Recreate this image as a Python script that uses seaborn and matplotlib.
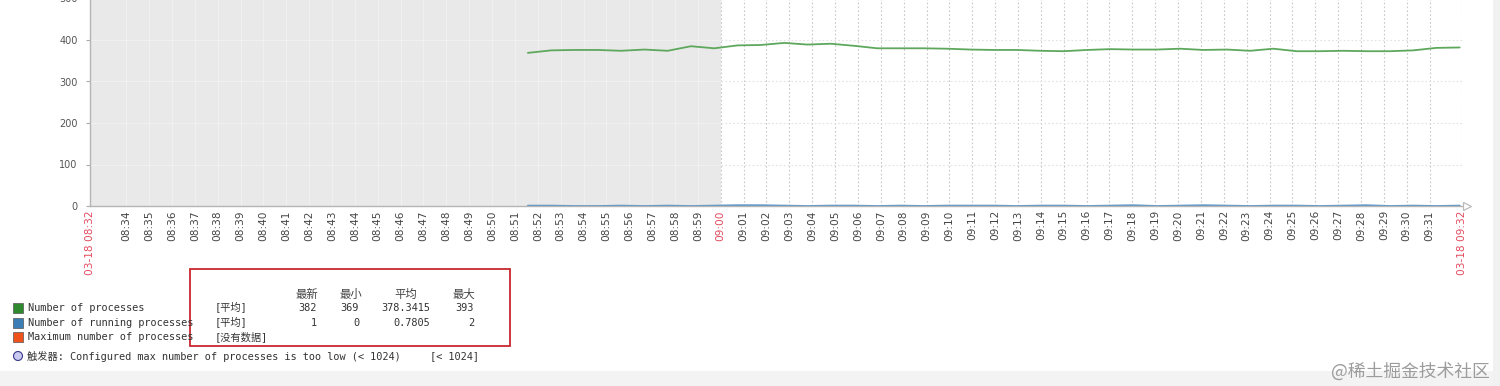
import numpy as np
import pandas as pd
import matplotlib
matplotlib.use("Agg")
import matplotlib.pyplot as plt
import matplotlib.dates as mdates
from matplotlib.patches import Rectangle, Ellipse
import seaborn as sns

# ---------------- data ----------------
period_start = pd.Timestamp("2024-03-18 08:32:25")
period_end = pd.Timestamp("2024-03-18 09:32:25")
day_mark = pd.Timestamp("2024-03-18 09:00:00")
sample_first = "2024-03-18 08:51:34"
sample_last = "2024-03-18 09:32:19"
n_samples = 41

processes = [369, 375, 376, 376, 374, 377, 374, 385, 380, 387, 388, 393, 389, 391, 386,
             380, 380, 380, 379, 377, 376, 376, 374, 373, 376, 378, 377, 377, 379, 376, 377,
             374, 379, 373, 373, 374, 373, 373, 375, 381, 382]
running = [1, 1, 0, 0, 1, 0, 1, 0, 1, 2, 2, 1, 0, 1, 1, 0, 1, 0, 1, 1, 1, 0, 1, 1, 0, 1,
           2, 0, 1, 2, 1, 0, 1, 1, 0, 1, 2, 0, 1, 0, 1]

series_names = ["Number of processes", "Number of running processes", "Maximum number of processes"]
series_colors = ["#2f8a2f", "#3b7db5", "#f0521c"]
line_colors = {"Number of processes": "#5ea85e", "Number of running processes": "#6b9cc6"}
func_labels = ["[平均]", "[平均]", "[没有数据]"]
stat_headers = ["最新", "最小", "平均", "最大"]
trigger_text = "触发器: Configured max number of processes is too low (< 1024)"
trigger_value = "[< 1024]"
yticks = [0, 100, 200, 300, 400, 500]
watermark = "@稀土掘金技术社区"

# ---------------- figure ----------------
sns.set_theme(style="white")
plt.rcParams["font.family"] = ["DejaVu Sans", "Noto Sans CJK SC"]
MONO = ["DejaVu Sans Mono", "Noto Sans CJK SC"]

W, H = 1500, 386
fig = plt.figure(figsize=(W / 100, H / 100), dpi=100)
fig.patch.set_facecolor("white")


def fx(x):
    return x / W


def fy(y):
    return 1 - y / H


ax = fig.add_axes([fx(90), fy(206), fx(1462) - fx(90), fy(-1.5) - fy(206)])
ax.set_facecolor("white")

times = pd.date_range(sample_first, sample_last, periods=n_samples)
df = pd.DataFrame({
    "time": np.concatenate([times, times]),
    "value": np.concatenate([processes, running]),
    "series": [series_names[0]] * n_samples + [series_names[1]] * n_samples,
})

ax.axvspan(period_start, day_mark, color="#e9e9e9", zorder=0, lw=0)

# grid
minute_ticks = pd.date_range("2024-03-18 08:34", "2024-03-18 09:31", freq="min")
for t in minute_ticks:
    if t < day_mark:
        ax.axvline(t, color="#f0f0f0", lw=0.8, zorder=0.5)
    else:
        ax.axvline(t, color="#c8c8c8", lw=0.8, ls=(0, (1.5, 2)), zorder=0.5)
ax.axvline(period_end, color="#c8c8c8", lw=0.8, ls=(0, (1.5, 2)), zorder=0.5)
for yv in yticks[1:]:
    ax.hlines(yv, period_start, day_mark, color="#f0f0f0", lw=0.8, zorder=0.5)
    ax.hlines(yv, day_mark, period_end, color="#e2e2e2", lw=0.8, ls=(0, (1.5, 2)), zorder=0.5)

sns.lineplot(data=df, x="time", y="value", hue="series", palette=line_colors,
             legend=False, ax=ax, linewidth=1.3, zorder=3)

ax.set_xlim(period_start, period_end)
ax.set_ylim(0, 500)
ax.set_xlabel("")
ax.set_ylabel("")

# ticks
tick_list = [period_start] + list(minute_ticks) + [period_end]
tick_labels = [period_start.strftime("%m-%d %H:%M")] + [t.strftime("%H:%M") for t in minute_ticks] + \
              [period_end.strftime("%m-%d %H:%M")]
ax.set_xticks(mdates.date2num(tick_list))
ax.set_xticklabels(tick_labels, rotation=90, fontsize=7.6, color="#444444")
for lab, t in zip(ax.get_xticklabels(), tick_list):
    if t in (period_start, period_end, day_mark):
        lab.set_color("#e24a5e")
ax.tick_params(axis="x", length=0, pad=3)
ax.set_yticks(yticks)
ax.set_yticklabels([str(v) for v in yticks], fontsize=7, color="#555555")
ax.tick_params(axis="y", left=True, length=3, width=0.8, color="#aaaaaa", pad=6)

for s in ["top", "right"]:
    ax.spines[s].set_visible(False)
for s in ["left", "bottom"]:
    ax.spines[s].set_color("#b5b5b5")
    ax.spines[s].set_linewidth(1.0)
ax.plot([1 + 5 / 1372], [0], marker=">", transform=ax.transAxes, clip_on=False,
        mfc="white", mec="#bbbbbb", ms=6, mew=0.9)

# ---------------- legend / stats ----------------
txt_color = "#333333"
fs = 7.4
col_right = [317, 359, 430, 474]
col_center = [307, 351, 406, 464]
row_y = [308, 323, 337]

for h, cx in zip(stat_headers, col_center):
    fig.text(fx(cx), fy(294), h, ha="center", va="center", fontsize=8.2, color="#444444", family=MONO)


def fmt(v):
    v = float(v)
    if abs(v - round(v)) < 1e-9:
        return str(int(round(v)))
    return f"{v:.4f}"


data_series = [processes, running, None]
for i, (name, col, fl, ser) in enumerate(zip(series_names, series_colors, func_labels, data_series)):
    y = row_y[i]
    fig.add_artist(Rectangle((fx(13), fy(y + 5)), fx(10), 10 / H, transform=fig.transFigure,
                             fc=col, ec="#555555", lw=0.5))
    fig.text(fx(28), fy(y), name, ha="left", va="center", fontsize=fs, color=txt_color, family=MONO)
    fig.text(fx(215), fy(y), fl, ha="left", va="center", fontsize=fs, color=txt_color, family=MONO)
    if ser is not None:
        arr = np.asarray(ser, dtype=float)
        stats = [arr[-1], arr.min(), arr.mean(), arr.max()]
        for v, rx in zip(stats, col_right):
            fig.text(fx(rx), fy(y), fmt(v), ha="right", va="center", fontsize=fs,
                     color=txt_color, family=MONO)

fig.add_artist(Ellipse((fx(18), fy(356)), fx(9), 9 / H, transform=fig.transFigure,
                       fc="#c9c9f2", ec="#3a3a8a", lw=0.8))
fig.text(fx(27), fy(356), trigger_text, ha="left", va="center", fontsize=fs, color=txt_color, family=MONO)
fig.text(fx(430), fy(356), trigger_value, ha="left", va="center", fontsize=fs, color=txt_color, family=MONO)

# red highlight box
fig.add_artist(Rectangle((fx(190), fy(346)), fx(320), 77 / H, transform=fig.transFigure,
                         fill=False, ec="#c8282e", lw=1.3))

# page background strips
fig.add_artist(Rectangle((0, 0), 1, fy(371), transform=fig.transFigure, fc="#f3f3f3", ec="none", zorder=0))
fig.add_artist(Rectangle((fx(1493), 0), fx(7), 1, transform=fig.transFigure, fc="#f1f1f1", ec="none", zorder=0))

fig.text(fx(1490), fy(371), watermark, ha="right", va="center", fontsize=12.8, color="#9c9c9c",
         family=["Noto Sans CJK SC"])

fig.savefig("out.png", dpi=100, facecolor="white")
